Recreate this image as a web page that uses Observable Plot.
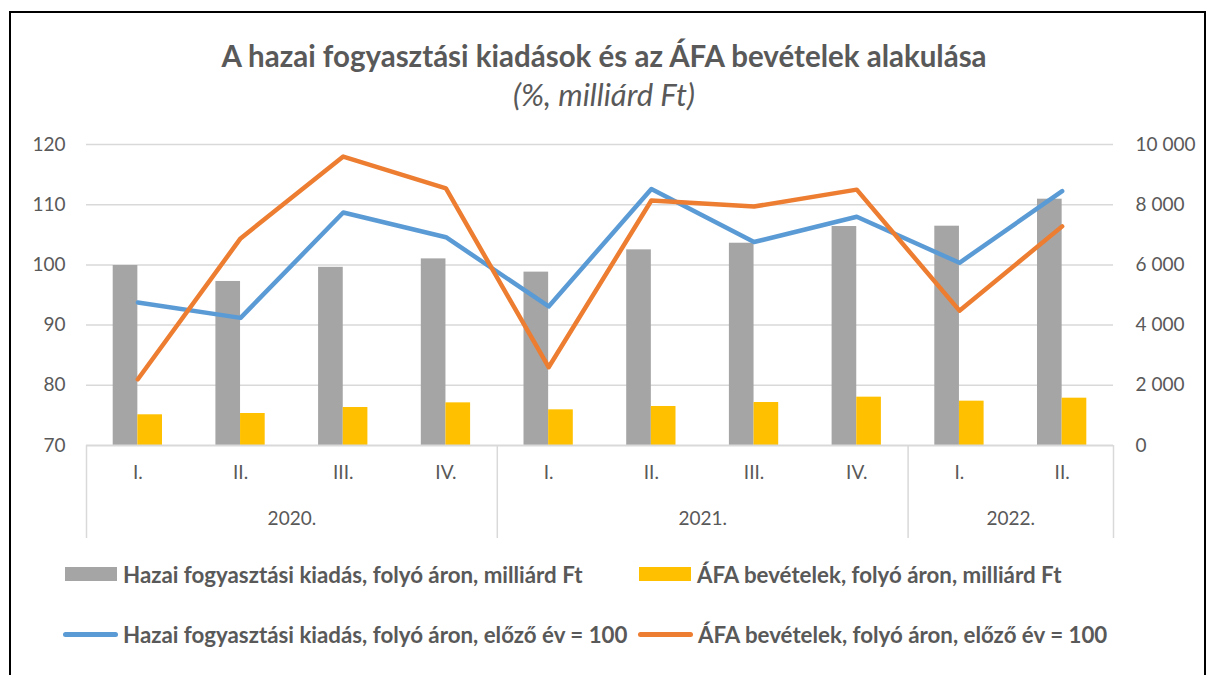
<!DOCTYPE html>
<html><head><meta charset="utf-8">
<script src="https://cdn.jsdelivr.net/npm/d3@7"></script>
<script src="https://cdn.jsdelivr.net/npm/@observablehq/plot@0.6"></script>
<style>
body{margin:0;background:#fff;width:1208px;height:675px;overflow:hidden;font-family:Lato,"Open Sans",sans-serif;}
#page{position:relative;width:1208px;height:675px;overflow:hidden;}
#frame{position:absolute;left:9px;top:11px;width:1197px;height:720px;border:2px solid #000;box-sizing:border-box;}
#title{position:absolute;top:38px;left:0;width:1208px;text-align:center;font-weight:bold;font-size:29.5px;line-height:36px;color:#595959;}
#subtitle{position:absolute;top:76px;left:0;width:1208px;text-align:center;font-style:italic;font-size:31px;line-height:36px;color:#595959;}
.plot{position:absolute;left:0;top:0;}
.li{position:absolute;display:flex;align-items:center;font-weight:bold;font-size:22.3px;color:#595959;height:24px;white-space:nowrap;}
.sw{display:inline-block;width:52px;height:14px;margin-right:6px;}
.ln{display:inline-block;width:55px;height:5px;border-radius:3px;margin-right:5px;}
</style></head>
<body><div id="page">
<div id="frame"></div>
<div id="title">A hazai fogyasztási kiadások és az ÁFA bevételek alakulása</div>
<div id="subtitle">(%, milliárd Ft)</div>
<div id="chartA" class="plot"></div>
<div id="chartB" class="plot"></div>
<div id="legend"></div>
</div>
<script>
const quarters = ["I.","II.","III.","IV.","I.","II.","III.","IV.","I.","II."];
const years = ["2020.","2021.","2022."];
const yearOfQuarter = [0,0,0,0,1,1,1,1,2,2];
const consumption = [5980,5450,5920,6200,5760,6500,6720,7275,7286,8183];
const vat = [1020,1063,1262,1417,1185,1296,1428,1606,1473,1572];
const consumptionIndex = [93.75,91.2,108.7,104.6,93.1,112.6,103.8,108.0,100.35,112.25];
const vatIndex = [81.0,104.4,118.0,112.7,83.0,110.7,109.7,112.5,92.4,106.4];
const leftTicks = [70,80,90,100,110,120];
const rightTicks = [0,2000,4000,6000,8000,10000];
const seriesNames = [
  "Hazai fogyasztási kiadás, folyó áron, milliárd Ft",
  "ÁFA bevételek, folyó áron, milliárd Ft",
  "Hazai fogyasztási kiadás, folyó áron, előző év = 100",
  "ÁFA bevételek, folyó áron, előző év = 100"
];
const colors = ["#A5A5A5","#FFC000","#5B9BD5","#ED7D31"];

const idx = d3.range(quarters.length);
const rows = idx.map(i => ({i, q: quarters[i], year: years[yearOfQuarter[i]], c: consumption[i], v: vat[i], ci: consumptionIndex[i], vi: vatIndex[i]}));
const groups = years.map((y, g) => {
  const members = idx.filter(i => yearOfQuarter[i] === g);
  return {y, start: d3.min(members) - 0.5, end: d3.max(members) + 0.5, mid: d3.mean(members)};
});
const boundaries = Array.from(new Set(groups.flatMap(g => [g.start, g.end])));
const half = 0.24;

const common = {
  width: 1208, height: 545,
  marginTop: 144, marginBottom: 100, marginLeft: 86, marginRight: 95,
  x: {type: "linear", domain: [-0.5, quarters.length - 0.5], axis: null},
  style: {fontFamily: "Lato, 'Open Sans', sans-serif", fontSize: "19px", color: "#595959", background: "transparent"}
};
const fmt = d => d3.format(",")(d).replace(/,/g, "\u00a0");

const plotA = Plot.plot({
  ...common,
  y: {domain: [0, 10000], axis: null},
  marks: [
    Plot.ruleY(rightTicks.slice(1), {stroke: "#D9D9D9", strokeWidth: 1.5}),
    Plot.rectY(rows, {x1: d => d.i - half, x2: d => d.i, y1: 0, y2: "c", fill: colors[0]}),
    Plot.rectY(rows, {x1: d => d.i, x2: d => d.i + half, y1: 0, y2: "v", fill: colors[1]}),
    Plot.axisY({anchor: "right", ticks: rightTicks, tickSize: 0, tickPadding: 22, tickFormat: fmt, textAnchor: "start", label: null})
  ]
});
document.getElementById("chartA").appendChild(plotA);

const plotB = Plot.plot({
  ...common,
  y: {domain: [70, 120], axis: null},
  marks: [
    Plot.ruleY([70], {stroke: "#D9D9D9", strokeWidth: 2}),
    Plot.axisY({anchor: "left", ticks: leftTicks, tickSize: 0, tickPadding: 21, label: null}),
    Plot.axisX({ticks: boundaries, tickSize: 93, stroke: "#D9D9D9", strokeWidth: 1.5, tickFormat: () => "", label: null}),
    Plot.axisX({ticks: idx, tickSize: 0, tickPadding: 20, tickFormat: i => quarters[i], label: null}),
    Plot.axisX({ticks: groups.map(g => g.mid), tickSize: 0, tickPadding: 66, tickFormat: m => groups.find(g => g.mid === m).y, label: null}),
    Plot.line(rows, {x: "i", y: "ci", stroke: colors[2], strokeWidth: 4.5, strokeLinejoin: "round", strokeLinecap: "round"}),
    Plot.line(rows, {x: "i", y: "vi", stroke: colors[3], strokeWidth: 4.5, strokeLinejoin: "round", strokeLinecap: "round"})
  ]
});
document.getElementById("chartB").appendChild(plotB);

const legend = document.getElementById("legend");
const pos = [[65, 562], [639, 562], [63, 622], [638, 622]];
seriesNames.forEach((name, k) => {
  const el = document.createElement("div");
  el.className = "li";
  el.style.left = pos[k][0] + "px";
  el.style.top = pos[k][1] + "px";
  const s = document.createElement("span");
  s.className = k < 2 ? "sw" : "ln";
  s.style.background = colors[k];
  el.appendChild(s);
  el.appendChild(document.createTextNode(name));
  legend.appendChild(el);
});
</script>
</body></html>
